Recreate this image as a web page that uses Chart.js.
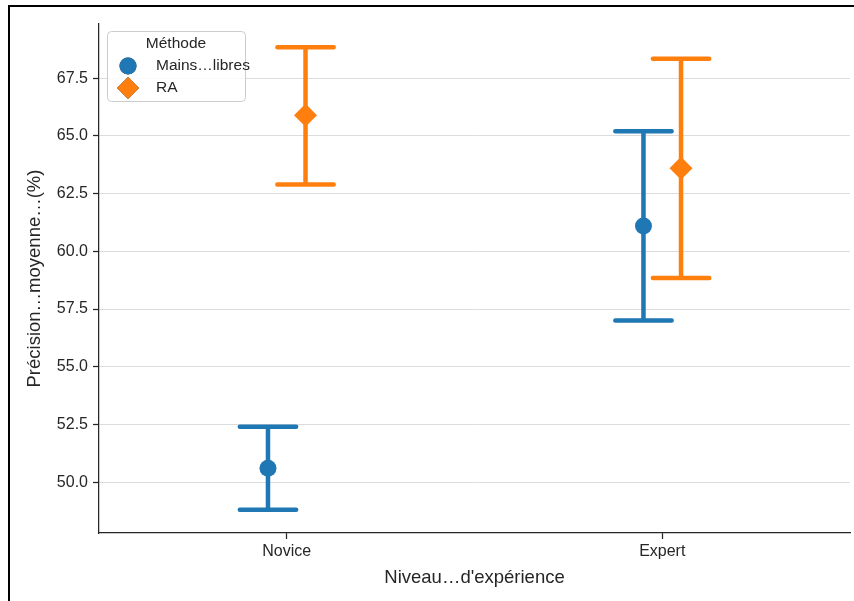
<!DOCTYPE html>
<html>
<head>
<meta charset="utf-8">
<script src="https://cdn.jsdelivr.net/npm/chart.js"></script>
<style>
  html, body { margin: 0; padding: 0; background: #fff; }
  canvas { display: block; }
</style>
</head>
<body>
<canvas id="precisionChart" width="854" height="601"></canvas>
<script>
const categories = ['Novice', 'Expert'];
const seriesNames = ['Mains…libres', 'RA'];
const mainsMean = [50.6, 61.1];
const mainsLow = [48.8, 57.0];
const mainsHigh = [52.4, 65.2];
const raMean = [65.9, 63.6];
const raLow = [62.9, 58.85];
const raHigh = [68.85, 68.35];
const yTicks = [50.0, 52.5, 55.0, 57.5, 60.0, 62.5, 65.0, 67.5];

const FONT = '"Liberation Sans", Arial, sans-serif';
const TEXT = '#262626';
const BLUE = '#1f77b4';
const ORANGE = '#ff7f0e';
const DODGE = 0.05;
const CAP = 0.075;

const allLow = mainsLow.concat(raLow);
const allHigh = mainsHigh.concat(raHigh);
const lo = Math.min(...allLow), hi = Math.max(...allHigh);
const pad = (hi - lo) * 0.05;

const series = [
  { name: seriesNames[0], mean: mainsMean, low: mainsLow, high: mainsHigh, color: BLUE, shape: 'circle', r: 8.5, off: -DODGE },
  { name: seriesNames[1], mean: raMean, low: raLow, high: raHigh, color: ORANGE, shape: 'rectRot', r: 11.5, off: DODGE }
];

const errorBars = {
  id: 'errorBars',
  beforeDatasetsDraw(chart) {
    const { ctx, scales: { x, y } } = chart;
    ctx.save();
    ctx.lineWidth = 4.5;
    ctx.lineCap = 'round';
    series.forEach(s => {
      ctx.strokeStyle = s.color;
      s.mean.forEach((m, i) => {
        const cx = i + s.off;
        const px = x.getPixelForValue(cx);
        const yl = y.getPixelForValue(s.low[i]);
        const yh = y.getPixelForValue(s.high[i]);
        const x0 = x.getPixelForValue(cx - CAP);
        const x1 = x.getPixelForValue(cx + CAP);
        ctx.beginPath();
        ctx.moveTo(px, yl); ctx.lineTo(px, yh);
        ctx.moveTo(x0, yl); ctx.lineTo(x1, yl);
        ctx.moveTo(x0, yh); ctx.lineTo(x1, yh);
        ctx.stroke();
      });
    });
    ctx.restore();
  }
};

// legend box drawn inside the plot, plus the frame lines of the picture
const legendBox = {
  id: 'legendBox',
  afterDraw(chart) {
    const ctx = chart.ctx;
    ctx.save();
    ctx.fillStyle = 'rgba(255,255,255,0.85)';
    ctx.strokeStyle = '#cccccc';
    ctx.lineWidth = 1;
    ctx.beginPath();
    ctx.roundRect(107.5, 31.5, 138, 70, 4);
    ctx.fill();
    ctx.stroke();

    ctx.fillStyle = TEXT;
    ctx.font = '15.5px ' + FONT;
    ctx.textBaseline = 'middle';
    ctx.textAlign = 'center';
    ctx.fillText('Méthode', 176, 44);
    ctx.textAlign = 'left';
    series.forEach((s, k) => {
      const cy = 66 + k * 22;
      ctx.beginPath();
      Chart.helpers.drawPoint(ctx, { pointStyle: s.shape, radius: s.shape === 'circle' ? 8.5 : 11, borderWidth: 0 }, 128, cy);
      ctx.fillStyle = s.color;
      ctx.fill();
      ctx.fillStyle = TEXT;
      ctx.fillText(s.name, 156, cy);
    });

    ctx.strokeStyle = '#000';
    ctx.lineWidth = 2;
    ctx.beginPath();
    ctx.moveTo(9, 601); ctx.lineTo(9, 6); ctx.lineTo(854, 6);
    ctx.stroke();
    ctx.restore();
  }
};

new Chart(document.getElementById('precisionChart'), {
  type: 'scatter',
  data: {
    datasets: series.map(s => ({
      label: s.name,
      data: s.mean.map((m, i) => ({ x: i + s.off, y: m })),
      pointStyle: s.shape,
      pointRadius: s.r,
      pointHoverRadius: s.r,
      backgroundColor: s.color,
      borderColor: s.color,
      borderWidth: 0
    }))
  },
  options: {
    responsive: false,
    animation: false,
    events: [],
    layout: { autoPadding: false, padding: { top: 24, right: 4, left: 0, bottom: 0 } },
    scales: {
      x: {
        type: 'linear',
        min: -0.5,
        max: 1.5,
        afterFit(scale) {
          scale.height = 68;
          scale.paddingLeft = 0;
          scale.paddingRight = 0;
        },
        afterBuildTicks(scale) { scale.ticks = categories.map((c, i) => ({ value: i })); },
        ticks: {
          color: TEXT,
          font: { family: FONT, size: 16 },
          padding: 3,
          maxRotation: 0,
          callback: v => categories[v]
        },
        grid: { drawOnChartArea: false, drawTicks: true, tickLength: 6, tickColor: '#262626', tickWidth: 1.25 },
        border: { color: '#262626', width: 1.25 },
        title: {
          display: true,
          text: 'Niveau…d\'expérience',
          color: TEXT,
          font: { family: FONT, size: 18.5 },
          padding: { top: 0, bottom: 12 }
        }
      },
      y: {
        min: lo - pad,
        max: hi + pad,
        afterFit(scale) {
          scale.width = 99;
          scale.paddingTop = 0;
          scale.paddingBottom = 0;
        },
        afterBuildTicks(scale) { scale.ticks = yTicks.map(v => ({ value: v })); },
        ticks: {
          color: TEXT,
          font: { family: FONT, size: 16 },
          padding: 5,
          callback: v => v.toFixed(1)
        },
        grid: { color: '#dcdcdc', lineWidth: 1, tickLength: 6, tickColor: '#262626', tickWidth: 1.25 },
        border: { color: '#262626', width: 1.25 },
        title: {
          display: true,
          text: 'Précision…moyenne…(%)',
          color: TEXT,
          font: { family: FONT, size: 18.5 },
          padding: { top: 24, bottom: 0 }
        }
      }
    },
    plugins: {
      legend: { display: false },
      tooltip: { enabled: false }
    }
  },
  plugins: [errorBars, legendBox]
});
</script>
</body>
</html>
